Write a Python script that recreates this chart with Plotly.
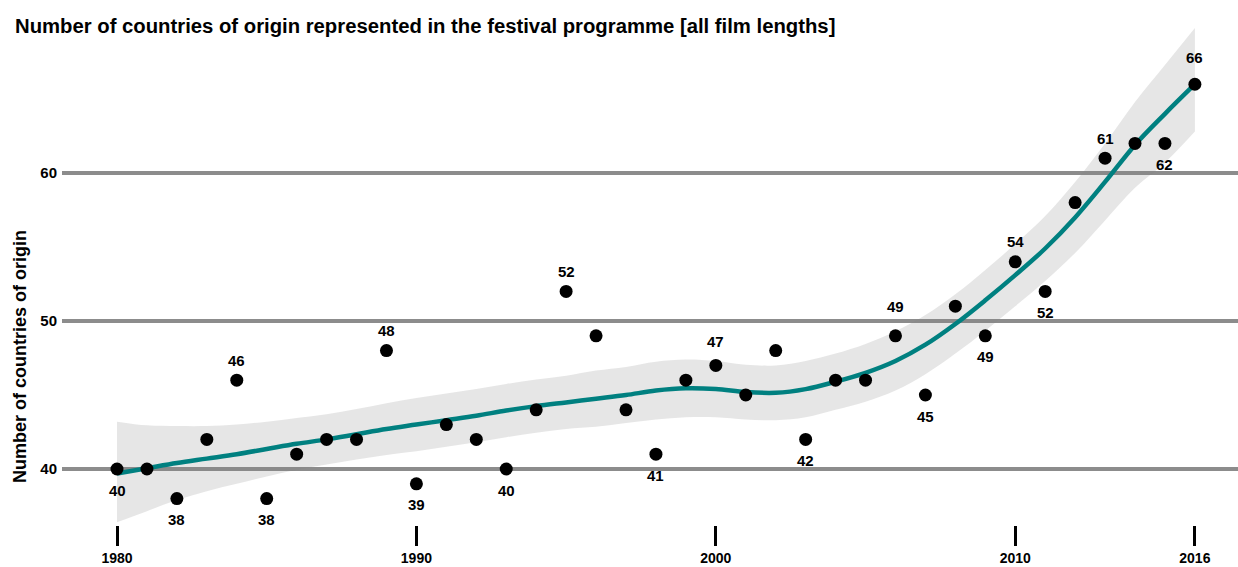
import plotly.graph_objects as go

years = list(range(1980, 2017))
countries = [40, 40, 38, 42, 46, 38, 41, 42, 42, 48,
             39, 43, 42, 40, 44, 52, 49, 44, 41, 46,
             47, 45, 48, 42, 46, 46, 49, 45, 51, 49,
             54, 52, 58, 61, 62, 62, 66]

# smoothed trend (loess) and its confidence band
smooth = [39.7, 40.05, 40.4, 40.7, 41.0, 41.35, 41.7, 42.0, 42.35, 42.7,
          43.0, 43.3, 43.6, 43.95, 44.25, 44.5, 44.75, 45.0, 45.3, 45.45,
          45.4, 45.2, 45.15, 45.4, 45.9, 46.5, 47.3, 48.4, 49.8, 51.4,
          53.1, 54.9, 57.0, 59.4, 61.9, 64.0, 66.0]
band_lower = [36.4, 37.15, 37.9, 38.5, 39.0, 39.5, 39.95, 40.3, 40.65, 40.95,
              41.2, 41.5, 41.8, 42.15, 42.45, 42.7, 42.85, 43.1, 43.35, 43.5,
              43.5, 43.35, 43.3, 43.5, 44.0, 44.55, 45.3, 46.4, 47.8, 49.35,
              51.0, 52.7, 54.6, 56.8, 59.0, 60.7, 62.8]
band_upper = [43.2, 42.95, 42.9, 42.9, 43.0, 43.2, 43.45, 43.7, 44.05, 44.45,
              44.8, 45.1, 45.4, 45.75, 46.05, 46.3, 46.65, 46.9, 47.25, 47.4,
              47.3, 47.05, 47.0, 47.3, 47.8, 48.45, 49.3, 50.4, 51.8, 53.45,
              55.2, 57.1, 59.4, 62.0, 64.8, 67.3, 69.8]

label_years_above = [1984, 1989, 1995, 2000, 2006, 2010, 2013, 2016]
label_years_below = [1980, 1982, 1985, 1990, 1993, 1998, 2003, 2007, 2009, 2011, 2015]

x_tickvals = [1980, 1990, 2000, 2010, 2016]
y_tickvals = [40, 50, 60]

title_text = "Number of countries of origin represented in the festival programme [all film lengths]"
y_title = "Number of countries of origin"

# label offsets (pixels) – styling only
extra_shift = {2000: -24, 2006: -29, 2016: -27}

FONT = "Liberation Sans, Arial, sans-serif"

fig = go.Figure()
fig.add_trace(go.Scatter(x=years, y=band_lower, mode="lines",
                         line=dict(width=0, shape="spline"), hoverinfo="skip",
                         showlegend=False))
fig.add_trace(go.Scatter(x=years, y=band_upper, mode="lines",
                         line=dict(width=0, shape="spline"), fill="tonexty",
                         fillcolor="rgba(128,128,128,0.2)", hoverinfo="skip",
                         showlegend=False))
fig.add_trace(go.Scatter(x=years, y=smooth, mode="lines",
                         line=dict(color="#008080", width=4.5, shape="spline"),
                         showlegend=False))
fig.add_trace(go.Scatter(x=years, y=countries, mode="markers",
                         marker=dict(color="black", size=13),
                         showlegend=False))

annotations = []
for yr in label_years_above + label_years_below:
    v = countries[years.index(yr)]
    shift = -20 if yr in label_years_above else 21
    shift = extra_shift.get(yr, shift)
    annotations.append(dict(x=yr, y=v, xref="x", yref="y", text=f"<b>{v}</b>",
                            showarrow=False, yshift=-shift,
                            font=dict(family=FONT, size=15, color="black")))

annotations.append(dict(text=f"<b>{y_title}</b>", textangle=-90, showarrow=False,
                        xref="paper", yref="paper",
                        x=-42 / 1176, y=(525 - 357) / 505,
                        xanchor="center", yanchor="middle",
                        font=dict(family=FONT, size=18, color="black")))

fig.update_layout(
    width=1238, height=567,
    margin=dict(l=62, r=0, t=20, b=42, autoexpand=False),
    paper_bgcolor="white", plot_bgcolor="white",
    font=dict(family=FONT, color="black"),
    title=dict(text=f"<b>{title_text}</b>", x=15 / 1238, xref="container", xanchor="left",
               y=1 - 26 / 567, yref="container", yanchor="middle",
               font=dict(family=FONT, size=20.3, color="black")),
    annotations=annotations,
    xaxis=dict(range=[1978.163, 2017.44], tickvals=x_tickvals,
               ticktext=[f"<b>{t}</b>" for t in x_tickvals],
               ticks="outside", ticklen=20, tickwidth=3, tickcolor="black",
               showgrid=False, zeroline=False, showline=False, automargin=False,
               tickfont=dict(family=FONT, size=14, color="black")),
    yaxis=dict(range=[36.216, 70.34], tickvals=y_tickvals,
               ticktext=[f"<b>{t}</b>" for t in y_tickvals],
               showgrid=True, gridcolor="#8c8c8c", gridwidth=3.5,
               zeroline=False, showline=False, ticks="", automargin=False,
               ticklabelstandoff=4,
               tickfont=dict(family=FONT, size=15, color="black")),
)

fig.write_html("out.html", config={"displayModeBar": False},
               post_script="document.body.style.margin='0';document.body.style.overflow='hidden';")
